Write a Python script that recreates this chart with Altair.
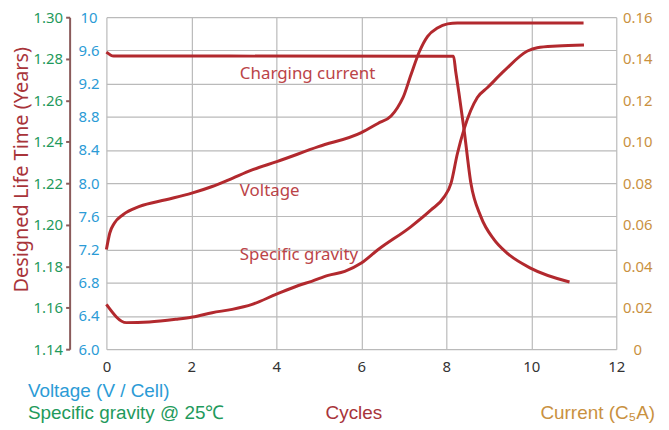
import altair as alt
import pandas as pd

# ---- data ----
cycles_v = [0, 0.08, 0.19, 0.39, 0.78, 1.40, 2.01, 2.49, 2.88, 3.43, 4.01, 4.99,
            6.00, 6.39, 6.70, 6.85, 6.98, 7.17, 7.37, 7.56, 7.79, 8.03, 8.26, 11.23]
voltage = [7.20, 7.40, 7.52, 7.62, 7.72, 7.80, 7.88, 7.96, 8.04, 8.16, 8.26, 8.44,
           8.61, 8.72, 8.81, 8.91, 9.03, 9.31, 9.59, 9.77, 9.87, 9.92, 9.93, 9.93]

cycles_sg = [0, 0.47, 1.01, 1.64, 2.03, 2.49, 2.96, 3.43, 3.99, 4.52, 4.83, 5.22,
             5.61, 6.00, 6.39, 7.17, 7.64, 7.95, 8.11, 8.26, 8.42, 8.73, 8.97,
             9.36, 9.91, 10.14, 10.61, 11.24]
gravity = [1.1616, 1.1528, 1.1531, 1.1544, 1.1555, 1.1576, 1.1592, 1.1616, 1.1664,
           1.1707, 1.1727, 1.1756, 1.1775, 1.1815, 1.1879, 1.1991, 1.2071, 1.2134,
           1.2199, 1.2342, 1.2462, 1.2613, 1.2661, 1.2741, 1.2837, 1.2853, 1.2861,
           1.2866]

cycles_c = [0, 0.17, 8.17, 8.22, 8.30, 8.42, 8.58, 8.81, 9.12, 9.43, 9.98, 10.9]
current = [0.1432, 0.1413, 0.1412, 0.134, 0.123, 0.1054, 0.0798, 0.0640, 0.0529,
           0.0463, 0.0391, 0.0324]

annot_labels = ["Charging current", "Voltage", "Specific gravity"]
annot_x = [3.14, 3.14, 3.14]
annot_v = [9.32, 7.90, 7.14]

x_ticks = [0, 2, 4, 6, 8, 10, 12]
v_ticks = [6.0, 6.4, 6.8, 7.2, 7.6, 8.0, 8.4, 8.8, 9.2, 9.6, 10.0]
sg_ticks = [1.14, 1.16, 1.18, 1.20, 1.22, 1.24, 1.26, 1.28, 1.30]
c_ticks = [0, 0.02, 0.04, 0.06, 0.08, 0.10, 0.12, 0.14, 0.16]

legend_texts = ["Voltage (V / Cell)", "Specific gravity @ 25℃", "Cycles", "Current (C₅A)"]
left_title = "Designed Life Time (Years)"

# ---- styles ----
LINE = "#b2292e"
BLUE = "#2b9bd6"
GREEN = "#1f9a5c"
TAN = "#c9913f"
TITLE_RED = "#a8343a"
ANNOT = "#bb4448"
GRID = "#bababa"
FONT = "Noto Sans"
LEGFONT = "Liberation Sans"

W, H = 513, 334

xscale = alt.Scale(domain=[0, 12], nice=False, zero=False)
xaxis = alt.Axis(values=x_ticks, grid=True, gridColor=GRID, gridWidth=1.2,
                 ticks=False, tickSize=0, domain=False, labelColor="#333333",
                 labelFont=FONT, labelFontSize=15, labelPadding=10,
                 labelFlush=False, labelBound=False, title=None)
X = alt.X("cycles:Q", scale=xscale, axis=xaxis)

dv = pd.DataFrame({"cycles": cycles_v, "v": voltage})
dsg = pd.DataFrame({"cycles": cycles_sg, "sg": gravity})
dc = pd.DataFrame({"cycles": cycles_c, "c": current})
da = pd.DataFrame({"cycles": annot_x, "v": annot_v, "label": annot_labels})

volt = alt.Chart(dv).mark_line(color=LINE, strokeWidth=3, interpolate="monotone").encode(
    x=X,
    y=alt.Y("v:Q", scale=alt.Scale(domain=[6, 10], nice=False, zero=False),
            axis=alt.Axis(orient="left", values=v_ticks, grid=True, gridColor=GRID,
                          gridWidth=1.2, ticks=False, tickSize=0, domain=False,
                          labelColor=BLUE, labelFont=FONT, labelFontSize=15,
                          labelAlign="center", labelPadding=18,
                          labelExpr="abs(datum.value - 10) < 1e-6 ? '10' : format(datum.value, '.1f')",
                          title=None)),
)

sgl = alt.Chart(dsg).mark_line(color=LINE, strokeWidth=3, interpolate="monotone").encode(
    x=X,
    y=alt.Y("sg:Q", scale=alt.Scale(domain=[1.14, 1.30], nice=False, zero=False),
            axis=alt.Axis(orient="left", offset=37, values=sg_ticks, grid=False,
                          ticks=True, tickSize=4, tickWidth=2, tickColor="#8a5a5a",
                          domain=True, domainColor="#8a5a5a", domainWidth=2,
                          labelColor=GREEN, labelFont=FONT, labelFontSize=15,
                          labelAlign="center", labelPadding=18, format=".2f",
                          title=left_title, titleColor=TITLE_RED, titleFont=FONT,
                          titleFontSize=20, titleFontWeight="normal", titlePadding=2,
                          titleY=153)),
)

cur = alt.Chart(dc).mark_line(color=LINE, strokeWidth=3, interpolate="monotone").encode(
    x=X,
    y=alt.Y("c:Q", scale=alt.Scale(domain=[0, 0.16], nice=False, zero=False),
            axis=alt.Axis(orient="right", values=c_ticks, grid=False, ticks=False,
                          tickSize=0, domain=False, labelColor=TAN, labelFont=FONT,
                          labelFontSize=15, labelAlign="center", labelPadding=21,
                          labelExpr="datum.value == 0 ? '0' : format(datum.value, '.2f')",
                          title=None)),
)

ann = alt.Chart(da).mark_text(color=ANNOT, font=FONT, fontSize=17, align="left",
                              baseline="middle").encode(
    x=X,
    y=alt.Y("v:Q", scale=alt.Scale(domain=[6, 10], nice=False, zero=False), axis=None),
    text="label:N",
)

def legend_text(i, x, y, color, align):
    return alt.Chart(pd.DataFrame({"t": [legend_texts[i]]})).mark_text(
        color=color, font=LEGFONT, fontSize=19, align=align, baseline="middle"
    ).encode(x=alt.value(x), y=alt.value(y), text="t:N")

texts = [
    legend_text(0, -79, 376, BLUE, "left"),
    legend_text(1, -79, 398, GREEN, "left"),
    legend_text(2, 249, 398, TITLE_RED, "center"),
    legend_text(3, 552, 398, TAN, "right"),
]

chart = alt.layer(volt, sgl, cur, ann, *texts).resolve_scale(y="independent").properties(
    width=W, height=H,
    autosize=alt.AutoSizeParams(type="none"),
    padding={"left": 99, "top": 8, "right": 45, "bottom": 74},
).configure_view(stroke=None)

chart.save("out.html", embed_options={"renderer": "svg", "actions": False})
